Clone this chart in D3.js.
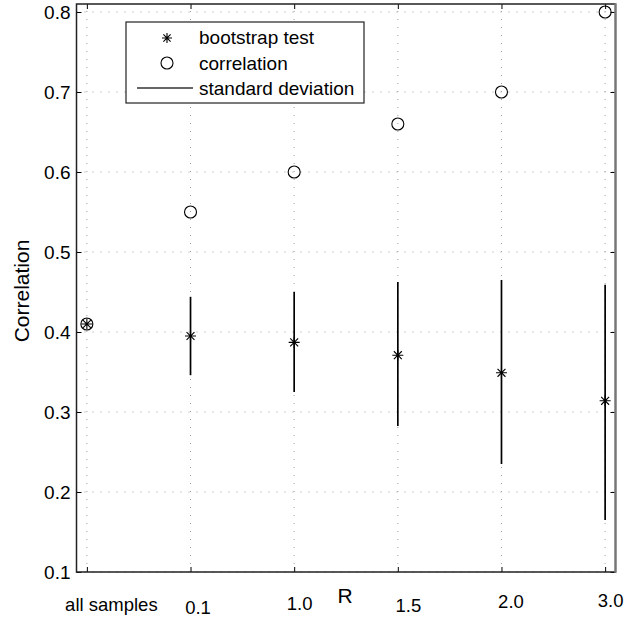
<!DOCTYPE html>
<html>
<head>
<meta charset="utf-8">
<script src="https://cdn.jsdelivr.net/npm/d3@7"></script>
<style>
  html, body { margin: 0; padding: 0; background: #fff; }
  text { font-family: "Liberation Sans", Arial, Helvetica, sans-serif; fill: #000; }
</style>
</head>
<body>
<div id="chart"></div>
<script>
// values
const categories = ["all samples", "0.1", "1.0", "1.5", "2.0", "3.0"]
const correlation = [0.41, 0.55, 0.60, 0.66, 0.70, 0.80]
const bootstrap = [0.41, 0.395, 0.387, 0.371, 0.349, 0.314]
const sdLow = [null, 0.346, 0.325, 0.2825, 0.235, 0.165]
const sdHigh = [null, 0.444, 0.450, 0.4625, 0.465, 0.459]
const yTicks = [0.1, 0.2, 0.3, 0.4, 0.5, 0.6, 0.7, 0.8]
const legendLabels = ["bootstrap test", "correlation", "standard deviation"]

// the category labels sit a little off their ticks in the original
const labelNudge = [[24, 0], [7, 3], [5, -1], [10, 1], [9, -3], [5, -4]]

const width = 633, height = 623
const box = { left: 76.5, right: 615.5, top: 4, bottom: 572 }

const svg = d3.select("#chart").append("svg")
    .attr("width", width)
    .attr("height", height)

const x = d3.scaleLinear().domain([-0.1, 5.1]).range([box.left, box.right])
const y = d3.scaleLinear().domain([0.1, 0.81]).range([box.bottom, box.top])
const idx = d3.range(categories.length)

// grid
const grid = svg.append("g").attr("stroke", "#a0a0a0").attr("stroke-width", 1)
    .attr("stroke-dasharray", "1,7")
grid.selectAll(".gx").data(idx).join("line")
    .attr("x1", d => x(d)).attr("x2", d => x(d))
    .attr("y1", box.bottom).attr("y2", box.top)
grid.selectAll(".gy").data(yTicks).join("line")
    .attr("x1", box.left).attr("x2", box.right)
    .attr("y1", d => y(d)).attr("y2", d => y(d))

// axes
const yAxis = svg.append("g")
    .attr("transform", `translate(${box.left},0)`)
    .call(d3.axisLeft(y).tickValues(yTicks).tickFormat(d3.format(".1f")).tickSizeInner(-5).tickSizeOuter(0).tickPadding(6))
yAxis.select(".domain").remove()
yAxis.selectAll("text").attr("font-size", 19).attr("font-family", "Liberation Sans, Arial, sans-serif")
yAxis.selectAll("line").attr("stroke", "#000")

const yAxisR = svg.append("g")
    .attr("transform", `translate(${box.right},0)`)
    .call(d3.axisRight(y).tickValues(yTicks).tickFormat("").tickSizeInner(-5).tickSizeOuter(0))
yAxisR.select(".domain").remove()
yAxisR.selectAll("line").attr("stroke", "#000")

const xAxis = svg.append("g")
    .attr("transform", `translate(0,${box.bottom})`)
    .call(d3.axisBottom(x).tickValues(idx).tickFormat(i => categories[i]).tickSizeInner(-5).tickSizeOuter(0).tickPadding(26))
xAxis.select(".domain").remove()
xAxis.selectAll("line").attr("stroke", "#000")
xAxis.selectAll("text")
    .attr("font-size", 18.5)
    .attr("font-family", "Liberation Sans, Arial, sans-serif")
    .attr("dx", (d, i) => labelNudge[i][0])
    .attr("dy", (d, i) => labelNudge[i][1] + 13)

const xAxisT = svg.append("g")
    .attr("transform", `translate(0,${box.top})`)
    .call(d3.axisTop(x).tickValues(idx).tickFormat("").tickSizeInner(-5).tickSizeOuter(0))
xAxisT.select(".domain").remove()
xAxisT.selectAll("line").attr("stroke", "#000")

// frame
svg.append("path")
    .attr("d", `M${box.right},${box.top}H${box.left}V${box.bottom}H${box.right}`)
    .attr("fill", "none").attr("stroke", "#222").attr("stroke-width", 1.5)
svg.append("line")
    .attr("x1", box.right).attr("x2", box.right).attr("y1", box.top - 0.75).attr("y2", box.bottom + 0.75)
    .attr("stroke", "#777").attr("stroke-width", 2.5)

// axis titles
svg.append("text")
    .attr("x", 345).attr("y", 603)
    .attr("text-anchor", "middle")
    .attr("font-size", 21)
    .text("R")
svg.append("text")
    .attr("transform", "translate(29,291) rotate(-90)")
    .attr("text-anchor", "middle")
    .attr("font-size", 21)
    .text("Correlation")

// marker helpers
function star(g, cx, cy, r) {
    const p = d3.path()
    p.moveTo(cx - r, cy); p.lineTo(cx + r, cy)
    p.moveTo(cx, cy - r); p.lineTo(cx, cy + r)
    const k = r * 0.72
    p.moveTo(cx - k, cy - k); p.lineTo(cx + k, cy + k)
    p.moveTo(cx - k, cy + k); p.lineTo(cx + k, cy - k)
    g.append("path").attr("d", p.toString())
        .attr("fill", "none").attr("stroke", "#000").attr("stroke-width", 1.1)
}
function ring(g, cx, cy, r) {
    g.append("circle").attr("cx", cx).attr("cy", cy).attr("r", r)
        .attr("fill", "none").attr("stroke", "#000").attr("stroke-width", 1.1)
}

const marks = svg.append("g")

// standard deviation bars
marks.selectAll(".sd").data(idx.filter(i => sdLow[i] != null)).join("line")
    .attr("x1", i => x(i)).attr("x2", i => x(i))
    .attr("y1", i => y(sdLow[i])).attr("y2", i => y(sdHigh[i]))
    .attr("stroke", "#000").attr("stroke-width", 1.7)

idx.forEach(i => ring(marks, x(i), y(correlation[i]), 6))
idx.forEach(i => star(marks, x(i), y(bootstrap[i]), 5.5))

// legend
const leg = svg.append("g")
leg.append("rect")
    .attr("x", 126).attr("y", 22).attr("width", 238).attr("height", 81)
    .attr("fill", "#fff").attr("stroke", "#222").attr("stroke-width", 1.2)
star(leg, 167, 38, 5)
ring(leg, 167, 63, 6)
leg.append("line")
    .attr("x1", 137).attr("x2", 193).attr("y1", 88).attr("y2", 88)
    .attr("stroke", "#333").attr("stroke-width", 1.3)
leg.selectAll(".lt").data(legendLabels).join("text")
    .attr("x", 199)
    .attr("y", (d, i) => 44 + i * 25.5)
    .attr("font-size", 19)
    .text(d => d)
</script>
</body>
</html>
